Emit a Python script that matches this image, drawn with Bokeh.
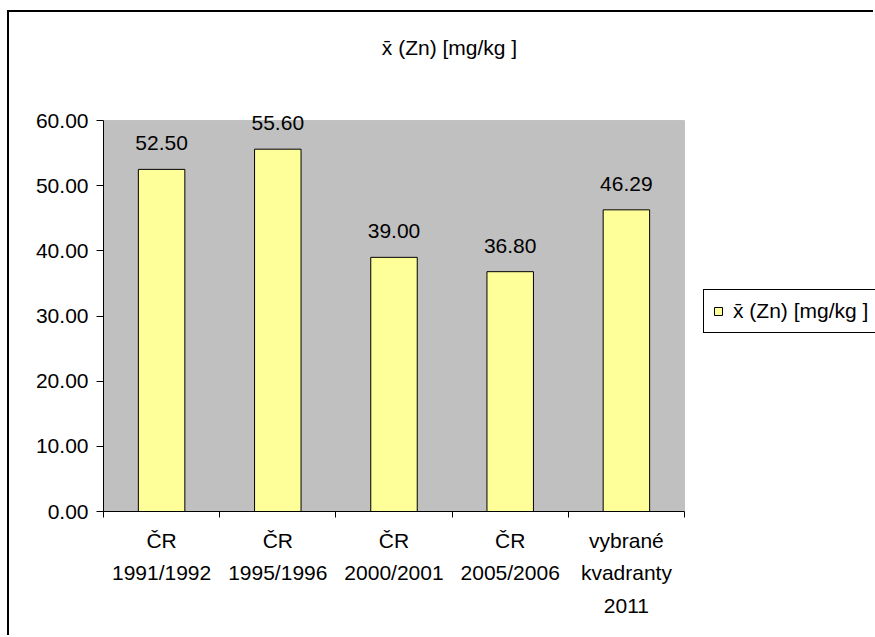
from bokeh.plotting import figure
from bokeh.models import (ColumnDataSource, FixedTicker, NumeralTickFormatter, Range1d,
                          Legend, LegendItem, Label, LabelSet, BoxAnnotation)
from bokeh.core.properties import value
from bokeh.embed import file_html
from bokeh.resources import INLINE

categories = ["ČR\n1991/1992", "ČR\n1995/1996", "ČR\n2000/2001", "ČR\n2005/2006",
              "vybrané\nkvadranty\n2011"]
values = [52.50, 55.60, 39.00, 36.80, 46.29]
value_labels = ["52.50", "55.60", "39.00", "36.80", "46.29"]
y_ticks = [0, 10, 20, 30, 40, 50, 60]
y_max = 60
series_name = "x\u0304 (Zn) [mg/kg ]"

FONT = "Liberation Sans"
FS = "21px"

# canvas geometry (canvas origin sits inside the outer chart border)
W, H = 866, 625
PA_LEFT, PA_RIGHT, PA_TOP, PA_BOTTOM = 94, 675, 108, 499   # plot area in canvas px
n = len(categories)
x_end = n * (W - PA_LEFT) / (PA_RIGHT - PA_LEFT)
y_end = y_max * PA_BOTTOM / (PA_BOTTOM - PA_TOP)

x_pos = [i + 0.5 for i in range(n)]
boundaries = list(range(n + 1))
src = ColumnDataSource(dict(x=x_pos, top=values, label=value_labels))

p = figure(width=W, height=H, x_range=Range1d(0, x_end), y_range=Range1d(0, y_end),
           output_backend="svg", toolbar_location=None,
           min_border_left=PA_LEFT, min_border_right=0, min_border_top=0,
           min_border_bottom=H - PA_BOTTOM)
p.margin = (10, 0, 0, 7)
p.styles = {"border-left": "2px solid black", "border-top": "2px solid black"}
p.background_fill_color = "white"
p.border_fill_color = "white"
p.outline_line_color = None
p.xgrid.visible = False
p.ygrid.visible = False

# plot area (grey) with its border
p.add_layout(BoxAnnotation(left=0, right=n, bottom=0, top=y_max, level="underlay",
                           fill_color="#C0C0C0", fill_alpha=1,
                           line_color="#808080", line_width=1))

r = p.vbar(x="x", top="top", width=0.4, bottom=0, source=src,
           fill_color="#FFFF99", line_color="black", line_width=1)

p.add_layout(LabelSet(x="x", y="top", text="label", source=src, text_font=value(FONT),
                      text_font_size=FS, text_align="center", text_baseline="alphabetic",
                      y_offset=19, text_color="black"))

# x axis
xa = p.xaxis[0]
xa.bounds = (0, n)
xa.ticker = FixedTicker(ticks=x_pos, minor_ticks=boundaries)
xa.major_label_overrides = {x: c for x, c in zip(x_pos, categories)}
xa.major_tick_line_color = None
xa.major_tick_out = 0
xa.major_tick_in = 0
xa.minor_tick_out = 6
xa.minor_tick_in = 0
xa.minor_tick_line_color = "black"
xa.axis_line_color = "black"
xa.major_label_text_font = FONT
xa.major_label_text_font_size = FS
xa.major_label_text_color = "black"
xa.major_label_text_line_height = 1.42
xa.major_label_standoff = 11

# y axis
ya = p.yaxis[0]
ya.bounds = (0, y_max)
ya.ticker = FixedTicker(ticks=y_ticks)
ya.formatter = NumeralTickFormatter(format="0.00")
ya.major_tick_out = 7
ya.major_tick_in = 0
ya.minor_tick_line_color = None
ya.major_tick_line_color = "black"
ya.axis_line_color = "black"
ya.major_label_text_font = FONT
ya.major_label_text_font_size = FS
ya.major_label_text_color = "black"
ya.major_label_standoff = 8

# chart title
p.add_layout(Label(x=346, y=PA_BOTTOM - 35, x_units="screen", y_units="screen",
                   text=series_name, text_font=FONT, text_font_size=FS,
                   text_align="center", text_baseline="middle", text_color="black"))

legend = Legend(items=[LegendItem(label=series_name, renderers=[r])], location=(600, 178),
                border_line_color="black", border_line_width=1.5, border_line_alpha=1,
                background_fill_color="white", background_fill_alpha=1,
                padding=9, spacing=0, margin=0,
                glyph_width=10, glyph_height=10, label_standoff=10,
                label_text_font=FONT, label_text_font_size=FS, label_text_color="black",
                label_height=20, label_width=150)
p.add_layout(legend)

open("out.html", "w").write(file_html(p, INLINE))
